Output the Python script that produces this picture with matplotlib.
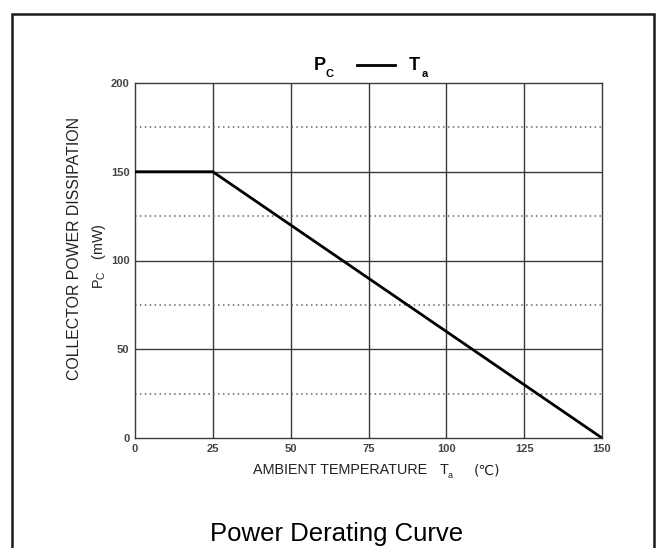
import matplotlib
matplotlib.use("Agg")
import matplotlib.pyplot as plt
from matplotlib.patches import Rectangle
from matplotlib.lines import Line2D

plt.rcParams['font.family'] = ['Liberation Sans', 'DejaVu Sans']
plt.rcParams['mathtext.fontset'] = 'custom'
plt.rcParams['mathtext.rm'] = 'Liberation Sans'
plt.rcParams['mathtext.bf'] = 'Liberation Sans:bold'

# derating curve breakpoints
temp_c = [0, 25, 150]
power_mw = [150, 150, 0]

x_ticks = [0, 25, 50, 75, 100, 125, 150]
y_ticks = [0, 50, 100, 150, 200]
y_minor = [25, 75, 125, 175]

W, H = 659, 548
fig = plt.figure(figsize=(W / 100, H / 100), dpi=100)
ax = fig.add_axes([135 / W, 1 - 438 / H, 467 / W, 355 / H])

grid_col = "#3a3a3a"
for x in x_ticks[1:-1]:
    ax.axvline(x, color=grid_col, lw=1.0, zorder=1)
for y in y_ticks[1:-1]:
    ax.axhline(y, color=grid_col, lw=1.0, zorder=1)
for y in y_minor:
    ax.axhline(y, color="#666666", lw=1.1, ls=(0, (1, 2.2)), zorder=1)

ax.plot(temp_c, power_mw, color="black", lw=2.0, solid_capstyle="butt", zorder=3)

ax.set_xlim(0, 150)
ax.set_ylim(0, 200)
ax.set_xticks(x_ticks)
ax.set_yticks(y_ticks)
ax.tick_params(length=0, pad=4, labelsize=8, colors="#444444")
for lab in ax.get_xticklabels() + ax.get_yticklabels():
    lab.set_fontweight("bold")
for s in ax.spines.values():
    s.set_color("#3a3a3a")
    s.set_linewidth(1.0)


def fx(px):
    return px / W


def fy(py):
    return 1 - py / H


lab_col = "#222222"
# x axis label, built from pieces
fig.text(fx(253), fy(474), "AMBIENT TEMPERATURE", ha="left", va="baseline",
         fontsize=10.4, color=lab_col)
fig.text(fx(440), fy(474), "T", ha="left", va="baseline", fontsize=10.4, color=lab_col)
fig.text(fx(448), fy(478), "a", ha="left", va="baseline", fontsize=6.5, color=lab_col)
fig.text(fx(474), fy(474), "(\u2103)", ha="left", va="baseline", fontsize=10,
         color=lab_col, family=["DejaVu Sans"])

# y axis label
fig.text(fx(75), fy(248), "COLLECTOR POWER DISSIPATION", rotation=90,
         ha="center", va="center", fontsize=11.4, color=lab_col)
fig.text(fx(99), fy(256), r"P$_\mathregular{C}$   (mW)", rotation=90,
         ha="center", va="center", fontsize=10.4, color=lab_col)

# title "Pc —— Ta"
fig.text(fx(314), fy(70), "P", ha="left", va="baseline", fontsize=13, fontweight="bold")
fig.text(fx(326), fy(77), "C", ha="left", va="baseline", fontsize=8, fontweight="bold")
fig.add_artist(Line2D([fx(357), fx(395)], [fy(65), fy(65)], transform=fig.transFigure,
                      color="black", lw=2.0))
fig.text(fx(409), fy(70), "T", ha="left", va="baseline", fontsize=13, fontweight="bold")
fig.text(fx(422), fy(77), "a", ha="left", va="baseline", fontsize=8, fontweight="bold")

fig.text(fx(337), fy(541), "Power Derating Curve", ha="center", va="baseline",
         fontsize=18.5, color="black")

fig.add_artist(Rectangle((fx(12), -0.02), 642 / W, 1 - 14 / H + 0.02,
                         transform=fig.transFigure, fill=False,
                         edgecolor="#1a1a1a", lw=1.8))

fig.savefig("out.png", dpi=100)
